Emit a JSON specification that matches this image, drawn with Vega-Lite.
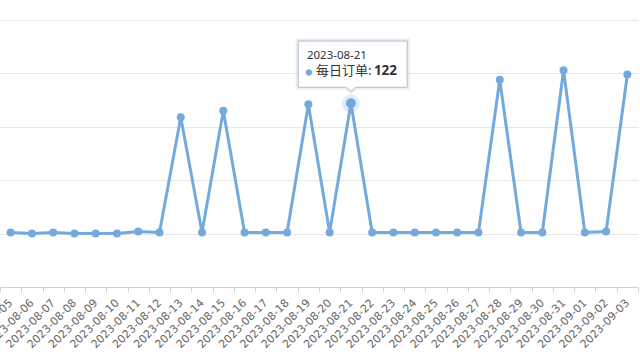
{
  "$schema": "https://vega.github.io/schema/vega-lite/v6.json",
  "width": 638,
  "height": 267,
  "autosize": {"type": "none"},
  "padding": {"left": 0, "top": 20, "right": 2, "bottom": 73},
  "background": "white",
  "config": {"view": {"stroke": null}, "font": "Noto Sans"},
  "datasets": {
    "orders": [
      {"date": "2023-08-05", "value": 1},
      {"date": "2023-08-06", "value": 0},
      {"date": "2023-08-07", "value": 1},
      {"date": "2023-08-08", "value": 0},
      {"date": "2023-08-09", "value": 0},
      {"date": "2023-08-10", "value": 0},
      {"date": "2023-08-11", "value": 2},
      {"date": "2023-08-12", "value": 1},
      {"date": "2023-08-13", "value": 109},
      {"date": "2023-08-14", "value": 1},
      {"date": "2023-08-15", "value": 115},
      {"date": "2023-08-16", "value": 1},
      {"date": "2023-08-17", "value": 1},
      {"date": "2023-08-18", "value": 1},
      {"date": "2023-08-19", "value": 121},
      {"date": "2023-08-20", "value": 1},
      {"date": "2023-08-21", "value": 122},
      {"date": "2023-08-22", "value": 1},
      {"date": "2023-08-23", "value": 1},
      {"date": "2023-08-24", "value": 1},
      {"date": "2023-08-25", "value": 1},
      {"date": "2023-08-26", "value": 1},
      {"date": "2023-08-27", "value": 1},
      {"date": "2023-08-28", "value": 144},
      {"date": "2023-08-29", "value": 1},
      {"date": "2023-08-30", "value": 1},
      {"date": "2023-08-31", "value": 153},
      {"date": "2023-09-01", "value": 1},
      {"date": "2023-09-02", "value": 2},
      {"date": "2023-09-03", "value": 149}
    ],
    "tip": [
      {"date": "2023-08-21", "value": 122, "title": "2023-08-21", "label": "每日订单:", "num": "122"}
    ]
  },
  "encoding": {
    "x": {
      "field": "date",
      "type": "ordinal",
      "bandPosition": 0.5,
      "scale": {"type": "band", "paddingInner": 0, "paddingOuter": 0},
      "axis": {
        "title": null,
        "tickBand": "extent",
        "labelAngle": -45,
        "labelAlign": "right",
        "labelBaseline": "middle",
        "labelColor": "#666666",
        "labelFontSize": 11,
        "labelFont": "DejaVu Sans",
        "labelPadding": 9,
        "labelOverlap": false,
        "tickSize": 5,
        "tickColor": "#d0d0d0",
        "domainColor": "#d0d0d0",
        "grid": false
      }
    },
    "y": {
      "field": "value",
      "type": "quantitative",
      "scale": {"domain": [-50, 200], "nice": false, "zero": false},
      "axis": {
        "title": null,
        "values": [0, 50, 100, 150, 200],
        "labels": false,
        "ticks": false,
        "domain": false,
        "grid": true,
        "gridColor": "#e6e6e6"
      }
    }
  },
  "layer": [
    {
      "data": {"name": "orders"},
      "mark": {"type": "line", "color": "#74a9dd", "strokeWidth": 3}
    },
    {
      "data": {"name": "orders"},
      "mark": {"type": "point", "filled": true, "color": "#74a9dd", "size": 64, "opacity": 1}
    },
    {
      "data": {"name": "tip"},
      "mark": {"type": "point", "filled": true, "color": "#74a9dd", "size": 330, "opacity": 0.22}
    },
    {
      "data": {"name": "tip"},
      "mark": {"type": "point", "filled": true, "color": "#74a9dd", "size": 100, "opacity": 1}
    },
    {
      "data": {"name": "tip"},
      "mark": {
        "type": "point",
        "shape": "M-0.967,-1.143 L1.033,-1.143 L1.033,-0.294 L0.092,-0.294 L0,-0.22 L-0.092,-0.294 L-0.967,-0.294 Z",
        "size": 11881,
        "filled": false,
        "fill": "#000000",
        "fillOpacity": 0,
        "stroke": "#000000",
        "strokeOpacity": 0.07,
        "strokeWidth": 5
      }
    },
    {
      "data": {"name": "tip"},
      "mark": {
        "type": "point",
        "shape": "M-0.967,-1.143 L1.033,-1.143 L1.033,-0.294 L0.092,-0.294 L0,-0.22 L-0.092,-0.294 L-0.967,-0.294 Z",
        "size": 11881,
        "filled": false,
        "fill": "#ffffff",
        "fillOpacity": 0.96,
        "stroke": "#a8c0da",
        "strokeWidth": 1,
        "opacity": 1
      }
    },
    {
      "data": {"name": "tip"},
      "mark": {
        "type": "point",
        "shape": "M-0.905,-0.614 A0.065,0.065 0 1,0 -0.775,-0.614 A0.065,0.065 0 1,0 -0.905,-0.614 Z",
        "size": 10000,
        "filled": true,
        "color": "#74a9dd",
        "opacity": 1
      }
    },
    {
      "data": {"name": "tip"},
      "mark": {"type": "text", "align": "left", "baseline": "middle", "dx": -44, "dy": -47, "fontSize": 11.5, "color": "#333333", "font": "Noto Sans"},
      "encoding": {"text": {"field": "title"}}
    },
    {
      "data": {"name": "tip"},
      "mark": {"type": "text", "align": "left", "baseline": "middle", "dx": -35, "dy": -32, "fontSize": 13, "color": "#333333", "font": "Noto Sans CJK SC"},
      "encoding": {"text": {"field": "label"}}
    },
    {
      "data": {"name": "tip"},
      "mark": {"type": "text", "align": "left", "baseline": "middle", "dx": 23, "dy": -32, "fontSize": 13.5, "fontWeight": "bold", "color": "#333333", "font": "Noto Sans"},
      "encoding": {"text": {"field": "num"}}
    }
  ]
}
